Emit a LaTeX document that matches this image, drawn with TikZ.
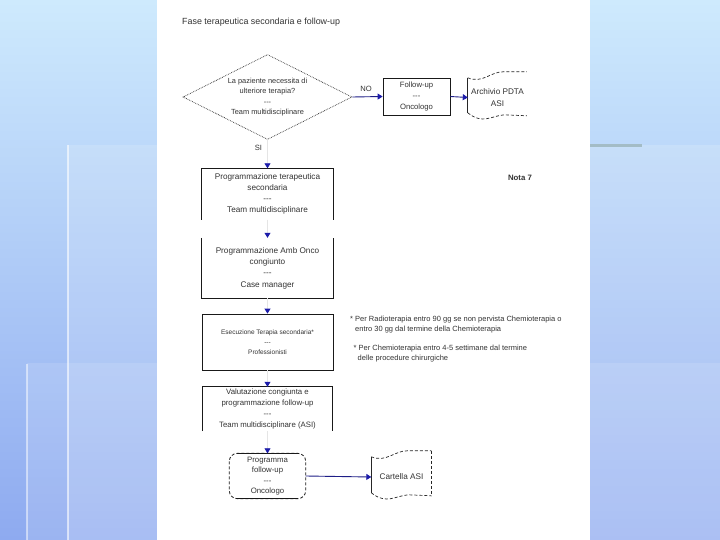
\documentclass[tikz,border=0pt]{standalone}
\usepackage{fontspec}
\setmainfont{Liberation Sans}
\usetikzlibrary{positioning,arrows.meta,calc,shapes.geometric}
\definecolor{bgtop}{RGB}{206,234,253}
\definecolor{bgbot}{RGB}{142,170,240}
\definecolor{tipblue}{RGB}{28,28,170}
\definecolor{lineblue}{RGB}{30,30,135}
\definecolor{barcol}{RGB}{163,188,198}
\newcommand{\fsz}[2]{\fontsize{#1}{#2}\selectfont}
\newcommand{\dashes}{-{}-{}-}
\tikzset{
  >={Triangle[length=5pt,width=6pt]},
  txt/.style={font=\fsz{8.2}{11.2},text=black!80,align=center,inner sep=0pt},
  notetxt/.style={font=\fsz{7.5}{10},text=black!80,align=left,inner sep=0pt},
  decision/.style={diamond,draw=black!85,densely dotted,line width=0.7pt,aspect=2,
    minimum width=169pt,minimum height=85pt,txt,font=\fsz{7.4}{10.2}},
  stepbox/.style={txt,minimum width=131pt},
  edge/.style={black!90,line width=0.8pt},
  fubox/.style={txt,draw=black!90,line width=0.8pt,minimum width=67pt,minimum height=37pt,
    font=\fsz{7.7}{11}},
  tapebox/.style={txt},
  tapeline/.style={black!85,line width=0.7pt,densely dashed},
  roundbox/.style={txt,font=\fsz{7.8}{10.3},minimum width=76pt,minimum height=45pt},
  vflow/.style={black!10,line width=0.8pt,-{Triangle[length=5pt,width=6pt,color=tipblue]}},
  hflow/.style={lineblue,line width=0.9pt,-{Triangle[length=5pt,width=6pt,color=tipblue]}},
  flowlbl/.style={txt,font=\fsz{7.6}{10}},
}
% punched tape outline: node, width, height, extra
\newcommand{\tapeoutline}[4]{%
  \begin{scope}[shift={(#1.north west)}]
    \draw[tapeline] (0,6) .. controls (0.25*#2,12) and (0.38*#2,0) .. (0.6*#2,0) -- (#2,0);
    \draw[tapeline] (0,#3-10) .. controls (0.25*#2,#3+2) and (0.4*#2,#3-7) .. (0.62*#2,#3-8) -- (#2,#3-7);
    \draw[black!85,line width=0.7pt] (0,6) -- (0,#3-10);
    #4
  \end{scope}}

\begin{document}
\begin{tikzpicture}[x=1pt,y=-1pt]
  \useasboundingbox (0,0) rectangle (720,540);
  % background
  \shade[top color=bgtop,bottom color=bgbot] (0,0) rectangle (720,540);
  \fill[white,opacity=0.14] (68,145) rectangle (157,540);
  \fill[white,opacity=0.12] (27,363) rectangle (157,540);
  \fill[white,opacity=0.16] (590,145) rectangle (720,540);
  \fill[white,opacity=0.12] (590,363) rectangle (720,540);
  \draw[white,opacity=0.6,line width=1.8pt] (68,145) -- (68,540);
  \draw[white,opacity=0.5,line width=1.6pt] (27,364) -- (27,540);
  \fill[barcol] (590,144) rectangle (642,147.5);
  \fill[white] (157,0) rectangle (590,540);

  \node[txt,font=\fsz{8.9}{10},anchor=west] (title) at (182,22)
    {Fase terapeutica secondaria e follow-up};

  % decision and NO branch
  \node[decision] (need) at (267.5,97)
    {La paziente necessita di\\ulteriore terapia?\\\dashes\\Team multidisciplinare};
  \node[fubox] (fu) at (416.5,96.5) {Follow-up\\\dashes\\Oncologo};
  \node[tapebox,minimum width=59pt,minimum height=51pt] (arch) at (497.5,97.5)
    {Archivio PDTA\\ASI};
  \tapeoutline{arch}{59}{51}{}
  \node[flowlbl] (no) at (366,89) {NO};
  \node[flowlbl] (si) at (258.5,148) {SI};

  % main column
  \node[stepbox,minimum height=51pt] (prog) at (267.5,194)
    {Programmazione terapeutica\\secondaria\\\dashes\\Team multidisciplinare};
  \node[stepbox,font=\fsz{8.2}{11.4},minimum height=60pt] (amb) at (267.5,268)
    {Programmazione Amb Onco\\congiunto\\\dashes\\Case manager};
  \node[stepbox,font=\fsz{6.5}{10},minimum height=56pt,draw=black!90,line width=0.8pt] (exec) at (267.5,342)
    {Esecuzione Terapia secondaria*\\\dashes\\Professionisti};
  \node[stepbox,font=\fsz{7.8}{10.8},minimum width=129pt,minimum height=44pt] (eval) at (267.5,409)
    {Valutazione congiunta e\\programmazione follow-up\\\dashes\\Team multidisciplinare (ASI)};
  \node[roundbox] (plan) at (267.5,476) {Programma\\follow-up\\\dashes\\Oncologo};
  \node[tapebox,minimum width=60pt,minimum height=52pt] (chart) at (401.5,477)
    {Cartella ASI};
  \tapeoutline{chart}{60}{52}{\draw[tapeline] (60,0) -- (60,45);}

  % box outlines
  \draw[edge] (prog.south west) |- (prog.north east) -- (prog.south east);
  \draw[edge] (amb.north west) |- (amb.south east) -- (amb.north east);
  \draw[edge] (eval.south west) |- (eval.north east) -- (eval.south east);
  \draw[edge,densely dashed,rounded corners=8pt] (plan.north west) rectangle (plan.south east);
  \draw[edge] ([xshift=8pt]plan.north west) -- ([xshift=-8pt]plan.north east);
  \draw[edge] ([xshift=8pt]plan.south west) -- ([xshift=-8pt]plan.south east);

  % notes
  \node[txt,font=\bfseries\fsz{7.8}{10}] (nota) at (520,178) {Nota 7};
  \node[notetxt,anchor=west] (radio) at (350,324.5)
    {* Per Radioterapia entro 90 gg se non pervista Chemioterapia o\\
     \hspace*{5pt}entro 30 gg dal termine della Chemioterapia};
  \node[notetxt,anchor=west] (chemo) at (353.5,354)
    {* Per Chemioterapia entro 4-5 settimane dal termine\\
     \hspace*{4pt}delle procedure chirurgiche};

  % connectors
  \draw[hflow] (need.east) -- (fu.west);
  \draw[hflow] (fu.east) -- (arch.west);
  \draw[vflow] (need.south) -- (prog.north);
  \draw[vflow] (prog.south) -- (amb.north);
  \draw[vflow] (amb.south) -- (exec.north);
  \draw[vflow] (exec.south) -- (eval.north);
  \draw[vflow] (eval.south) -- (plan.north);
  \draw[hflow] (plan.east) -- (chart.west);
\end{tikzpicture}
\end{document}
